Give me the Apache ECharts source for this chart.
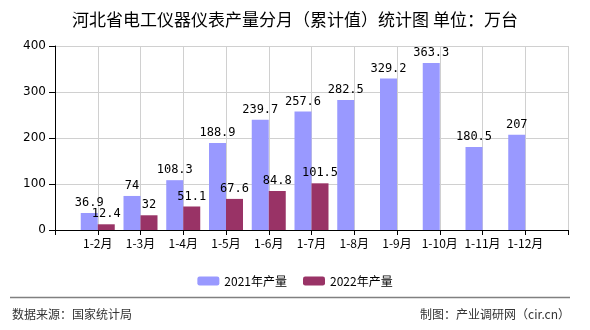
<!DOCTYPE html>
<html>
<head>
<meta charset="utf-8">
<script src="https://cdn.jsdelivr.net/npm/echarts@6/dist/echarts.min.js"></script>
<style>
html,body{margin:0;padding:0;background:#fff;}
#main{width:590px;height:330px;}
</style>
</head>
<body>
<div id="main"></div>
<script>
var categories = ['1-2月','1-3月','1-4月','1-5月','1-6月','1-7月','1-8月','1-9月','1-10月','1-11月','1-12月'];
var values2021 = [36.9, 74, 108.3, 188.9, 239.7, 257.6, 282.5, 329.2, 363.3, 180.5, 207];
var values2022 = [12.4, 32, 51.1, 67.6, 84.8, 101.5];
var seriesNames = ['2021年产量', '2022年产量'];
var yTicks = [0, 100, 200, 300, 400];

var FONT = '"Noto Sans CJK SC", "DejaVu Sans", sans-serif';

// pad with empty slots at both ends so points sit on ticks like the reference
var xData = [''].concat(categories).concat(['']);
function pad(arr) {
  var out = ['-'];
  for (var i = 0; i < categories.length; i++) out.push(i < arr.length ? arr[i] : '-');
  out.push('-');
  return out;
}

var chart = echarts.init(document.getElementById('main'), null, {renderer: 'canvas'});
var labelStyle = {show: true, position: 'top', distance: 4, color: '#000', fontSize: 12, fontFamily: '"DejaVu Sans Mono", monospace', letterSpacing: -1};
chart.setOption({
  animation: false,
  backgroundColor: '#fff',
  title: {
    text: '河北省电工仪器仪表产量分月（累计值）统计图 单位：万台',
    left: 'center', top: 6,
    textStyle: {fontSize: 17, fontWeight: 'normal', color: '#000', fontFamily: FONT}
  },
  legend: {
    data: seriesNames,
    left: 'center', top: 270,
    itemWidth: 22, itemHeight: 9, itemGap: 16,
    textStyle: {fontSize: 12, color: '#000', fontFamily: FONT}
  },
  grid: {left: 55, right: 22, top: 46, bottom: 100, containLabel: false},
  xAxis: {
    type: 'category',
    data: xData,
    boundaryGap: false,
    axisLine: {lineStyle: {color: '#000', width: 1}},
    axisTick: {show: true, length: 5, interval: 0, lineStyle: {color: '#000'}},
    axisLabel: {interval: 0, margin: 7, fontSize: 12, color: '#000', fontFamily: FONT},
    splitLine: {show: true, interval: 0, lineStyle: {color: '#d0d0d0', width: 1}}
  },
  yAxis: {
    type: 'value',
    min: yTicks[0], max: yTicks[yTicks.length - 1], interval: 100,
    axisLine: {show: true, lineStyle: {color: '#000', width: 1}},
    axisTick: {show: true, length: 6, lineStyle: {color: '#000'}},
    axisLabel: {margin: 9, fontSize: 12, color: '#000', fontFamily: '"DejaVu Sans", sans-serif'},
    splitLine: {show: true, lineStyle: {color: '#d0d0d0', width: 1}}
  },
  series: [
    {name: seriesNames[0], type: 'bar', data: pad(values2021), barWidth: 17, barGap: '0%',
     itemStyle: {color: '#9999FF'}, label: labelStyle},
    {name: seriesNames[1], type: 'bar', data: pad(values2022), barWidth: 17, barGap: '0%',
     itemStyle: {color: '#993366'}, label: labelStyle}
  ],
  graphic: [
    {type: 'line', shape: {x1: 10, y1: 297.5, x2: 570, y2: 297.5}, style: {stroke: '#808080', lineWidth: 1.5}},
    {type: 'text', left: 12, top: 308, style: {text: '数据来源：国家统计局', fontSize: 12, fill: '#333', fontFamily: FONT}},
    {type: 'text', right: 20, top: 308, style: {text: '制图：产业调研网（cir.cn）', fontSize: 12, fill: '#333', fontFamily: FONT}}
  ]
});
</script>
</body>
</html>
